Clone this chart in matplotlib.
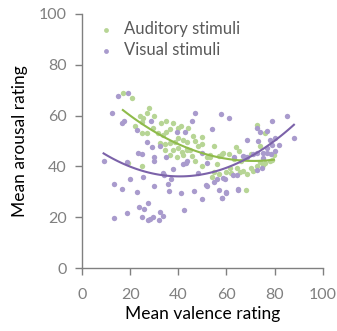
import numpy as np
import matplotlib
matplotlib.use('Agg')
import matplotlib.pyplot as plt

# auditory stimuli (valence, arousal)
aud_x = [17, 21, 22, 24, 27, 25, 25.3, 25, 27, 29.5, 31.5, 33.6, 35, 36.5, 39.8, 42,
         38.6, 36.5, 34.4, 32.4, 34.4, 37.8, 39.8, 41.5, 43.6, 36.5, 39.4, 42, 43.6,
         43.6, 45, 45.6, 50, 50, 53, 58, 61, 64, 72.6, 76, 19, 25, 50, 52, 53, 57,
         58.5, 54, 55, 57, 60, 61.4, 62, 64.5, 65.5, 67, 68.5, 70, 71, 72.6, 75, 78,
         68, 74, 76, 78.8, 79.7, 47, 48, 46, 44, 41, 38, 28, 30, 33, 35, 40, 47, 55,
         63, 66, 70, 74, 65, 56]
aud_y = [69, 67, 56, 60, 61, 57.5, 59, 53, 53, 55, 53, 52.4, 53.5, 54.7, 51, 50.4,
         49.6, 49.2, 48.8, 49.2, 46.5, 46.5, 47.2, 45.7, 46.5, 44.5, 43.7, 44.5, 49.6,
         47, 46.5, 44, 51.6, 49, 43.7, 45, 45, 47.6, 56.3, 53, 41.3, 40, 40, 43.7, 44.5,
         44, 45.3, 36, 38, 37, 38, 39.4, 37.5, 39.4, 37.8, 38.2, 37, 39.4, 38.2, 40,
         40.5, 42, 30.7, 41.7, 41.3, 42.5, 44.5, 42, 48, 52, 55, 56, 57, 63, 60, 57,
         58, 55, 50, 48, 43, 42, 45, 48, 46, 41]

# visual stimuli (valence, arousal)
vis_x = [14.9, 19, 12.4, 16.6, 17.5, 28.6, 22.8, 47, 45.6, 57.7, 61, 54, 79, 85, 72.6,
         74, 76.8, 88, 78, 80, 39.4, 42.7, 27, 29, 32.4, 23.2, 25, 30, 35, 9, 18.7,
         25.3, 33.6, 34, 13.3, 16.6, 22.8, 29.9, 35.7, 36, 41, 46.5, 50, 42.3, 27.4,
         23.6, 25.7, 18.7, 13.3, 24.9, 27.4, 28.2, 29.5, 32.4, 33.6, 32, 58, 60, 57,
         64.7, 55, 56, 59.3, 51.9, 43, 43.6, 42, 48, 52, 50, 67.6, 75, 73, 58.5, 62.7,
         64.3, 59.8, 58, 64.7, 51.5, 63, 67, 68.5, 71, 72.6, 75, 77, 77, 78.5, 80, 81.7,
         79, 72.6, 74.7, 68.5, 38, 30, 37, 20]
vis_y = [67.7, 69, 61, 57, 58, 58, 54.3, 61, 58, 60.6, 59, 54.7, 58, 60, 55, 53.5, 54,
         51, 50.4, 51, 53.5, 53.5, 49.6, 47.6, 48, 45.3, 45, 43.7, 43.7, 42, 41.7, 35.8,
         37.4, 36.6, 33, 31, 30, 32.3, 33, 30.3, 29.5, 30.3, 27, 23, 25.6, 24, 23.2,
         21.7, 19.7, 20, 18.9, 19.3, 20, 22, 20.5, 18.9, 27.5, 29.5, 30.7, 30.7, 34, 35,
         35, 32.3, 41.3, 42, 41, 37.4, 41.3, 45.3, 43.7, 45.3, 50, 35.4, 36.6, 36.6, 30,
         27.6, 31, 32.7, 43.7, 44, 43.7, 45, 45.3, 43.5, 47.2, 45.3, 45, 46, 48.4, 48.4,
         38.6, 39.4, 50.4, 39, 42, 35, 35]

aud_pt, aud_line = '#b7d595', '#8fbb4a'
vis_pt, vis_line = '#a99bcd', '#7b62a9'

plt.rcParams['font.family'] = ['Lato', 'DejaVu Sans']

fig = plt.figure(figsize=(3.37, 3.31), dpi=100)
ax = fig.add_axes([0.243, 0.19, 0.715, 0.768])

ax.scatter(aud_x, aud_y, s=15, color=aud_pt, lw=0, label='Auditory stimuli', zorder=2)
ax.scatter(vis_x, vis_y, s=15, color=vis_pt, lw=0, label='Visual stimuli', zorder=2)

# quadratic trend lines
for xs, ys, c in [(aud_x, aud_y, aud_line), (vis_x, vis_y, vis_line)]:
    p = np.polyfit(xs, ys, 2)
    xx = np.linspace(min(xs), max(xs), 100)
    ax.plot(xx, np.polyval(p, xx), color=c, lw=1.5, zorder=3)

ax.set_xlim(0, 100)
ax.set_ylim(0, 100)
ax.set_xticks(range(0, 101, 20))
ax.set_yticks(range(0, 101, 20))
for s in ['top', 'right']:
    ax.spines[s].set_visible(False)
for s in ['left', 'bottom']:
    ax.spines[s].set_color('#808080')
    ax.spines[s].set_linewidth(1)
ax.tick_params(colors='#808080', labelsize=11.5, length=5, width=1)
ax.tick_params(axis='x', pad=9)
ax.tick_params(axis='y', pad=6)

ax.set_xlabel('Mean valence rating', fontsize=12.5, color='black', labelpad=3)
ax.set_ylabel('Mean arousal rating', fontsize=12.5, color='black', labelpad=8)

leg = ax.legend(loc='upper left', bbox_to_anchor=(-0.01, 1.01), frameon=False,
                fontsize=12, handletextpad=0.05, markerscale=0.9, labelspacing=0.3,
                borderaxespad=0.2)
for t in leg.get_texts():
    t.set_color('#595959')

fig.savefig('out.png', dpi=100)
